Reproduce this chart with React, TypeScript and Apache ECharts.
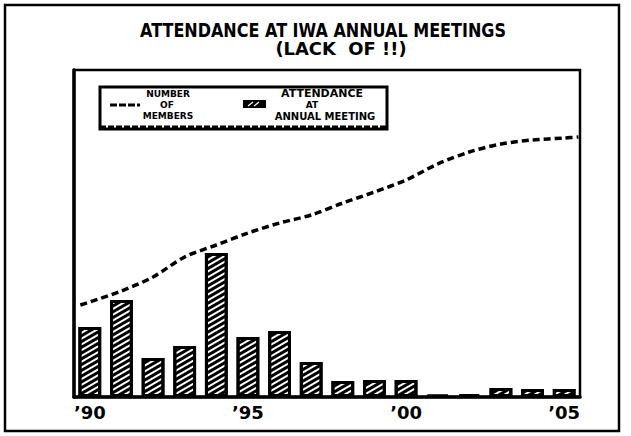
import React, { useEffect, useRef } from 'react';
import * as echarts from 'echarts';

const years = ['1990', '1991', '1992', '1993', '1994', '1995', '1996', '1997', '1998', '1999', '2000', '2001', '2002', '2003', '2004', '2005'];
const attendance = [70, 97, 39, 51, 144, 60, 66, 35, 16, 17, 17, 2, 3, 9, 8, 8];
const memberYears = [1989.7, 1990, 1991, 1992, 1993, 1994, 1995, 1996, 1997, 1998, 1999, 2000, 2001, 2002, 2003, 2004, 2005, 2005.45];
const members = [92, 95, 106, 120, 140, 152, 164, 174, 182, 194, 205, 217, 233, 245, 253, 257, 259, 260];
const tickYears = ['1990', '1995', '2000', '2005'];
const tickLabels = ['\u201990', '\u201995', '\u201900', '\u201905'];

const FONT = '"DejaVu Sans", sans-serif';

export default function App() {
  const ref = useRef<HTMLDivElement>(null);
  useEffect(() => {
    if (!ref.current) return;
    const chart = echarts.init(ref.current, null, { renderer: 'svg' });
    const linePoints = memberYears.map((y, i) => [y, members[i]]);
    chart.setOption({
      animation: false,
      backgroundColor: '#fff',
      grid: {
        left: 74, top: 70, right: 51, bottom: 39,
        show: true, borderColor: '#000', borderWidth: 2.5, backgroundColor: 'transparent',
      },
      xAxis: [
        {
          type: 'category',
          data: years,
          boundaryGap: true,
          axisLine: { show: true, lineStyle: { color: '#000', width: 3.5 } },
          axisTick: { show: false },
          axisLabel: {
            interval: (idx: number) => tickYears.indexOf(years[idx]) >= 0,
            formatter: (v: string) => {
              const k = tickYears.indexOf(v);
              return k >= 0 ? tickLabels[k] : '';
            },
            color: '#000', fontFamily: FONT, fontWeight: 'bold', fontSize: 18, margin: 6,
          },
          splitLine: { show: false },
        },
        {
          type: 'value',
          min: 1989.5, max: 2005.5,
          show: false,
          position: 'bottom',
        },
      ],
      yAxis: {
        type: 'value', min: 0, max: 327,
        axisLine: { show: true, lineStyle: { color: '#000', width: 3.5 } },
        axisTick: { show: false }, axisLabel: { show: false }, splitLine: { show: false },
      },
      series: [
        {
          type: 'bar',
          name: 'Attendance at annual meeting',
          xAxisIndex: 0,
          data: attendance,
          barCategoryGap: '28%',
          itemStyle: {
            color: '#fff', borderColor: '#000', borderWidth: 3,
            decal: {
              symbol: 'rect', symbolSize: 1, color: '#000',
              dashArrayX: [1, 0], dashArrayY: [2.8, 1.4],
              rotation: -Math.PI / 6,
            },
          },
        },
        {
          type: 'line',
          name: 'Number of members',
          xAxisIndex: 1,
          data: linePoints,
          smooth: 0.3,
          showSymbol: false,
          lineStyle: { color: '#000', width: 3.5, type: [7, 4] },
        },
      ],
      graphic: [
        { type: 'rect', shape: { x: 5, y: 5, width: 614, height: 426 }, style: { fill: 'none', stroke: '#000', lineWidth: 2.5 } },
        { type: 'text', x: 323, y: 30, scaleY: 1.25, style: { text: 'ATTENDANCE AT IWA ANNUAL MEETINGS', font: `bold 16px ${FONT}`, fill: '#000', textAlign: 'center', textVerticalAlign: 'middle' } },
        { type: 'text', x: 341, y: 49, scaleX: 1.12, scaleY: 1.1, style: { text: '(LACK  OF !!)', font: `bold 16px ${FONT}`, fill: '#000', textAlign: 'center', textVerticalAlign: 'middle' } },
        { type: 'rect', shape: { x: 100, y: 87, width: 287, height: 42 }, style: { fill: '#fff', stroke: '#000', lineWidth: 3 } },
        { type: 'line', shape: { x1: 100, y1: 127, x2: 387, y2: 127 }, style: { stroke: '#000', lineWidth: 3, lineDash: [6, 2] } },
        { type: 'line', shape: { x1: 110, y1: 105, x2: 140, y2: 105 }, style: { stroke: '#000', lineWidth: 3, lineDash: [7, 2] } },
        { type: 'text', x: 168, y: 94, style: { text: 'NUMBER', font: `bold 9px ${FONT}`, fill: '#000', textAlign: 'center', textVerticalAlign: 'middle' } },
        { type: 'text', x: 167, y: 105, style: { text: 'OF', font: `bold 9px ${FONT}`, fill: '#000', textAlign: 'center', textVerticalAlign: 'middle' } },
        { type: 'text', x: 168, y: 116, style: { text: 'MEMBERS', font: `bold 9px ${FONT}`, scaleX: 1.05, fill: '#000', textAlign: 'center', textVerticalAlign: 'middle' } },
        { type: 'rect', shape: { x: 243, y: 100, width: 23, height: 8 }, style: { fill: '#000' } },
        { type: 'line', shape: { x1: 248, y1: 106, x2: 253, y2: 102 }, style: { stroke: '#fff', lineWidth: 1.2 } },
        { type: 'line', shape: { x1: 254, y1: 106, x2: 259, y2: 102 }, style: { stroke: '#fff', lineWidth: 1.2 } },
        { type: 'text', x: 322, y: 93, scaleX: 1.1, style: { text: 'ATTENDANCE', font: `bold 10px ${FONT}`, fill: '#000', textAlign: 'center', textVerticalAlign: 'middle' } },
        { type: 'text', x: 312, y: 104.5, style: { text: 'AT', font: `bold 9px ${FONT}`, fill: '#000', textAlign: 'center', textVerticalAlign: 'middle' } },
        { type: 'text', x: 325, y: 116, style: { text: 'ANNUAL MEETING', font: `bold 10px ${FONT}`, fill: '#000', textAlign: 'center', textVerticalAlign: 'middle' } },
      ],
    });
    return () => chart.dispose();
  }, []);
  return <div ref={ref} style={{ position: 'absolute', left: 0, top: 0, width: 631, height: 436 }} />;
}
